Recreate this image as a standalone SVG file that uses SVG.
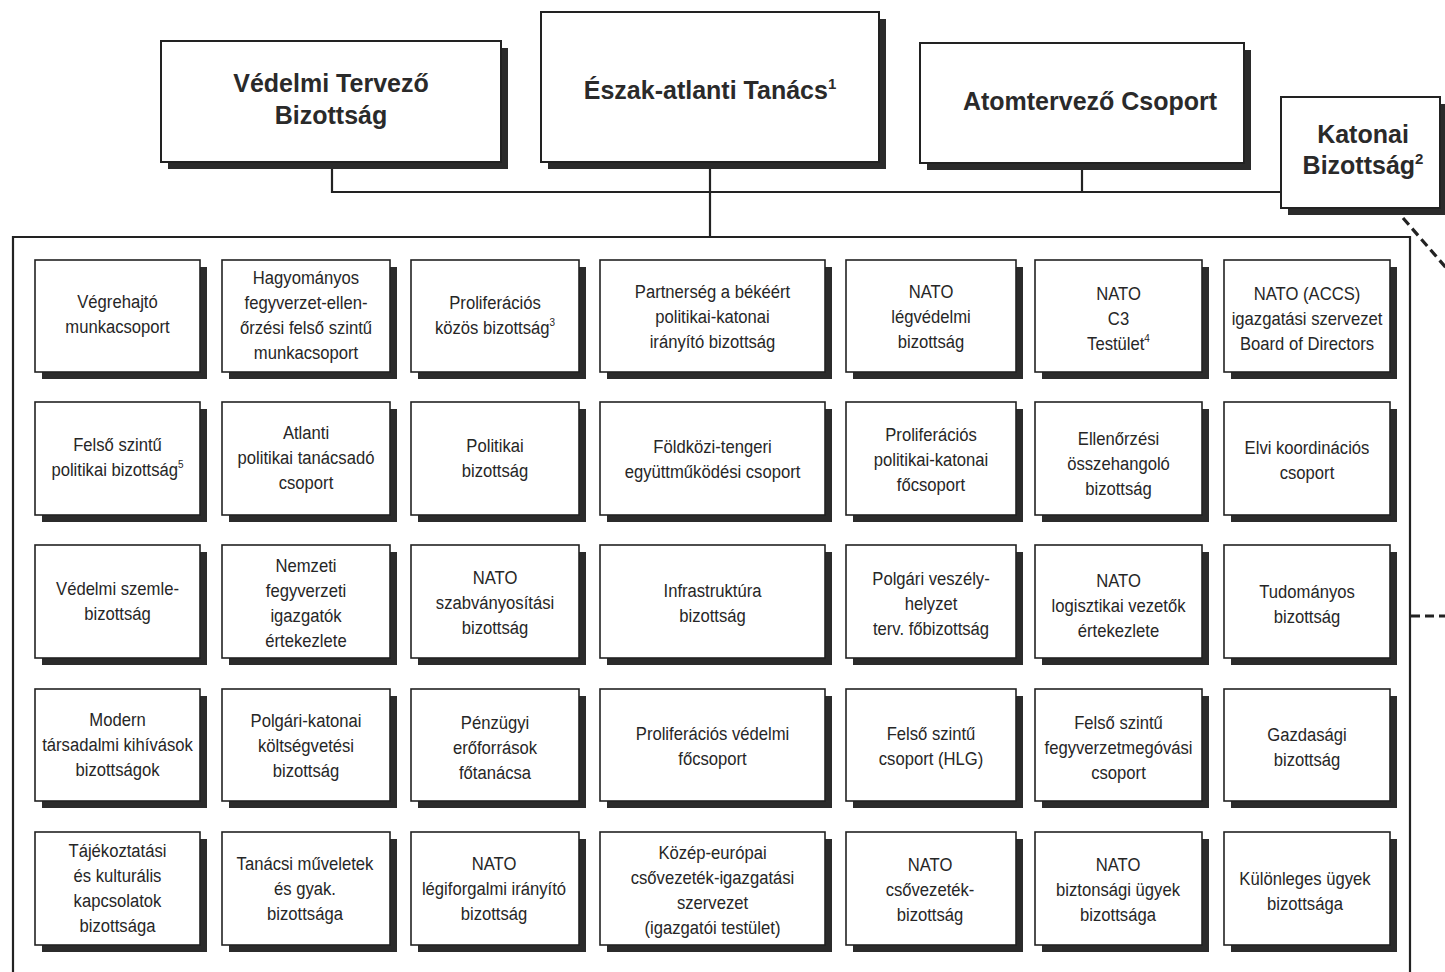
<svg xmlns="http://www.w3.org/2000/svg" width="1445" height="972" viewBox="0 0 1445 972">
<style>
.sh{fill:#2b2b2b}
.bx{fill:#fff;stroke:#222;stroke-width:1.6}
.bb{fill:#fff;stroke:#222;stroke-width:2}
.t{font-family:"Liberation Sans",Arial,sans-serif;font-size:18.5px;fill:#262626;text-anchor:middle}
.h{font-family:"Liberation Sans",Arial,sans-serif;font-size:25px;font-weight:bold;fill:#2a2a2a;text-anchor:middle}
.ln{stroke:#222;stroke-width:2.2;fill:none}
.dl{stroke:#222;stroke-width:3.2;fill:none;stroke-dasharray:9 5}
.sup{font-size:60%}
</style>
<rect width="1445" height="972" fill="#fff"/>
<g id="connectors">
<polyline class="ln" points="332,162 332,192 1281,192"/>
<line class="ln" x1="1082" y1="163" x2="1082" y2="192"/>
<line class="ln" x1="710" y1="161" x2="710" y2="237"/>
<polyline class="ln" points="13,980 13,237 1410,237 1410,980"/>
<line class="dl" x1="1403" y1="218" x2="1448" y2="270"/>
<line class="dl" x1="1411" y1="616" x2="1445" y2="616"/>
</g>
<g id="vedelmi-tervezo">
<rect class="sh" x="168" y="48" width="340" height="121"/>
<rect class="bb" x="161" y="41" width="340" height="121"/>
<text class="h"><tspan x="331" y="92">Védelmi Tervező</tspan><tspan x="331" y="124">Bizottság</tspan></text>
</g>
<g id="eszak-atlanti">
<rect class="sh" x="548" y="19" width="338" height="150"/>
<rect class="bb" x="541" y="12" width="338" height="150"/>
<text class="h"><tspan x="710" y="99">Észak-atlanti Tanács<tspan class="sup" dy="-10">1</tspan></tspan></text>
</g>
<g id="atomtervezo">
<rect class="sh" x="927" y="50" width="324" height="120"/>
<rect class="bb" x="920" y="43" width="324" height="120"/>
<text class="h"><tspan x="1090" y="110">Atomtervező Csoport</tspan></text>
</g>
<g id="katonai">
<rect class="sh" x="1288" y="104" width="160" height="111"/>
<rect class="bb" x="1281" y="97" width="159" height="111"/>
<text class="h"><tspan x="1363" y="143">Katonai</tspan><tspan x="1363" y="174">Bizottság<tspan class="sup" dy="-10">2</tspan></tspan></text>
</g>

<!-- row 1 -->
<g id="n11"><rect class="sh" x="42" y="267" width="165" height="112"/><rect class="bx" x="35" y="260" width="165" height="112"/>
<text class="t" transform="translate(117.5 0) scale(0.9 1)"><tspan x="0" y="308">Végrehajtó</tspan><tspan x="0" y="333">munkacsoport</tspan></text></g>
<g id="n12"><rect class="sh" x="229" y="267" width="168" height="112"/><rect class="bx" x="222" y="260" width="168" height="112"/>
<text class="t" transform="translate(306 0) scale(0.9 1)"><tspan x="0" y="284">Hagyományos</tspan><tspan x="0" y="309">fegyverzet-ellen-</tspan><tspan x="0" y="334">őrzési felső szintű</tspan><tspan x="0" y="359">munkacsoport</tspan></text></g>
<g id="n13"><rect class="sh" x="418" y="267" width="168" height="112"/><rect class="bx" x="411" y="260" width="168" height="112"/>
<text class="t" transform="translate(495 0) scale(0.9 1)"><tspan x="0" y="309">Proliferációs</tspan><tspan x="0" y="334">közös bizottság<tspan class="sup" dy="-8">3</tspan></tspan></text></g>
<g id="n14"><rect class="sh" x="607" y="267" width="225" height="112"/><rect class="bx" x="600" y="260" width="225" height="112"/>
<text class="t" transform="translate(712.5 0) scale(0.9 1)"><tspan x="0" y="298">Partnerség a békéért</tspan><tspan x="0" y="323">politikai-katonai</tspan><tspan x="0" y="348">irányító bizottság</tspan></text></g>
<g id="n15"><rect class="sh" x="853" y="267" width="170" height="112"/><rect class="bx" x="846" y="260" width="170" height="112"/>
<text class="t" transform="translate(931 0) scale(0.9 1)"><tspan x="0" y="298">NATO</tspan><tspan x="0" y="323">légvédelmi</tspan><tspan x="0" y="348">bizottság</tspan></text></g>
<g id="n16"><rect class="sh" x="1042" y="267" width="167" height="112"/><rect class="bx" x="1035" y="260" width="167" height="112"/>
<text class="t" transform="translate(1118.5 0) scale(0.9 1)"><tspan x="0" y="300">NATO</tspan><tspan x="0" y="325">C3</tspan><tspan x="0" y="350">Testület<tspan class="sup" dy="-8">4</tspan></tspan></text></g>
<g id="n17"><rect class="sh" x="1231" y="267" width="166" height="112"/><rect class="bx" x="1224" y="260" width="166" height="112"/>
<text class="t" transform="translate(1307 0) scale(0.9 1)"><tspan x="0" y="300">NATO (ACCS)</tspan><tspan x="0" y="325">igazgatási szervezet</tspan><tspan x="0" y="350">Board of Directors</tspan></text></g>

<!-- row 2 -->
<g id="n21"><rect class="sh" x="42" y="409" width="165" height="113"/><rect class="bx" x="35" y="402" width="165" height="113"/>
<text class="t" transform="translate(117.5 0) scale(0.9 1)"><tspan x="0" y="451">Felső szintű</tspan><tspan x="0" y="476">politikai bizottság<tspan class="sup" dy="-8">5</tspan></tspan></text></g>
<g id="n22"><rect class="sh" x="229" y="409" width="168" height="113"/><rect class="bx" x="222" y="402" width="168" height="113"/>
<text class="t" transform="translate(306 0) scale(0.9 1)"><tspan x="0" y="439">Atlanti</tspan><tspan x="0" y="464">politikai tanácsadó</tspan><tspan x="0" y="489">csoport</tspan></text></g>
<g id="n23"><rect class="sh" x="418" y="409" width="168" height="113"/><rect class="bx" x="411" y="402" width="168" height="113"/>
<text class="t" transform="translate(495 0) scale(0.9 1)"><tspan x="0" y="452">Politikai</tspan><tspan x="0" y="477">bizottság</tspan></text></g>
<g id="n24"><rect class="sh" x="607" y="409" width="225" height="113"/><rect class="bx" x="600" y="402" width="225" height="113"/>
<text class="t" transform="translate(712.5 0) scale(0.9 1)"><tspan x="0" y="453">Földközi-tengeri</tspan><tspan x="0" y="478">együttműködési csoport</tspan></text></g>
<g id="n25"><rect class="sh" x="853" y="409" width="170" height="113"/><rect class="bx" x="846" y="402" width="170" height="113"/>
<text class="t" transform="translate(931 0) scale(0.9 1)"><tspan x="0" y="441">Proliferációs</tspan><tspan x="0" y="466">politikai-katonai</tspan><tspan x="0" y="491">főcsoport</tspan></text></g>
<g id="n26"><rect class="sh" x="1042" y="409" width="167" height="113"/><rect class="bx" x="1035" y="402" width="167" height="113"/>
<text class="t" transform="translate(1118.5 0) scale(0.9 1)"><tspan x="0" y="445">Ellenőrzési</tspan><tspan x="0" y="470">összehangoló</tspan><tspan x="0" y="495">bizottság</tspan></text></g>
<g id="n27"><rect class="sh" x="1231" y="409" width="166" height="113"/><rect class="bx" x="1224" y="402" width="166" height="113"/>
<text class="t" transform="translate(1307 0) scale(0.9 1)"><tspan x="0" y="454">Elvi koordinációs</tspan><tspan x="0" y="479">csoport</tspan></text></g>

<!-- row 3 -->
<g id="n31"><rect class="sh" x="42" y="552" width="165" height="113"/><rect class="bx" x="35" y="545" width="165" height="113"/>
<text class="t" transform="translate(117.5 0) scale(0.9 1)"><tspan x="0" y="595">Védelmi szemle-</tspan><tspan x="0" y="620">bizottság</tspan></text></g>
<g id="n32"><rect class="sh" x="229" y="552" width="168" height="113"/><rect class="bx" x="222" y="545" width="168" height="113"/>
<text class="t" transform="translate(306 0) scale(0.9 1)"><tspan x="0" y="572">Nemzeti</tspan><tspan x="0" y="597">fegyverzeti</tspan><tspan x="0" y="622">igazgatók</tspan><tspan x="0" y="647">értekezlete</tspan></text></g>
<g id="n33"><rect class="sh" x="418" y="552" width="168" height="113"/><rect class="bx" x="411" y="545" width="168" height="113"/>
<text class="t" transform="translate(495 0) scale(0.9 1)"><tspan x="0" y="584">NATO</tspan><tspan x="0" y="609">szabványosítási</tspan><tspan x="0" y="634">bizottság</tspan></text></g>
<g id="n34"><rect class="sh" x="607" y="552" width="225" height="113"/><rect class="bx" x="600" y="545" width="225" height="113"/>
<text class="t" transform="translate(712.5 0) scale(0.9 1)"><tspan x="0" y="597">Infrastruktúra</tspan><tspan x="0" y="622">bizottság</tspan></text></g>
<g id="n35"><rect class="sh" x="853" y="552" width="170" height="113"/><rect class="bx" x="846" y="545" width="170" height="113"/>
<text class="t" transform="translate(931 0) scale(0.9 1)"><tspan x="0" y="585">Polgári veszély-</tspan><tspan x="0" y="610">helyzet</tspan><tspan x="0" y="635">terv. főbizottság</tspan></text></g>
<g id="n36"><rect class="sh" x="1042" y="552" width="167" height="113"/><rect class="bx" x="1035" y="545" width="167" height="113"/>
<text class="t" transform="translate(1118.5 0) scale(0.9 1)"><tspan x="0" y="587">NATO</tspan><tspan x="0" y="612">logisztikai vezetők</tspan><tspan x="0" y="637">értekezlete</tspan></text></g>
<g id="n37"><rect class="sh" x="1231" y="552" width="166" height="113"/><rect class="bx" x="1224" y="545" width="166" height="113"/>
<text class="t" transform="translate(1307 0) scale(0.9 1)"><tspan x="0" y="598">Tudományos</tspan><tspan x="0" y="623">bizottság</tspan></text></g>

<!-- row 4 -->
<g id="n41"><rect class="sh" x="42" y="696" width="165" height="112"/><rect class="bx" x="35" y="689" width="165" height="112"/>
<text class="t" transform="translate(117.5 0) scale(0.9 1)"><tspan x="0" y="726">Modern</tspan><tspan x="0" y="751">társadalmi kihívások</tspan><tspan x="0" y="776">bizottságok</tspan></text></g>
<g id="n42"><rect class="sh" x="229" y="696" width="168" height="112"/><rect class="bx" x="222" y="689" width="168" height="112"/>
<text class="t" transform="translate(306 0) scale(0.9 1)"><tspan x="0" y="727">Polgári-katonai</tspan><tspan x="0" y="752">költségvetési</tspan><tspan x="0" y="777">bizottság</tspan></text></g>
<g id="n43"><rect class="sh" x="418" y="696" width="168" height="112"/><rect class="bx" x="411" y="689" width="168" height="112"/>
<text class="t" transform="translate(495 0) scale(0.9 1)"><tspan x="0" y="729">Pénzügyi</tspan><tspan x="0" y="754">erőforrások</tspan><tspan x="0" y="779">főtanácsa</tspan></text></g>
<g id="n44"><rect class="sh" x="607" y="696" width="225" height="112"/><rect class="bx" x="600" y="689" width="225" height="112"/>
<text class="t" transform="translate(712.5 0) scale(0.9 1)"><tspan x="0" y="740">Proliferációs védelmi</tspan><tspan x="0" y="765">főcsoport</tspan></text></g>
<g id="n45"><rect class="sh" x="853" y="696" width="170" height="112"/><rect class="bx" x="846" y="689" width="170" height="112"/>
<text class="t" transform="translate(931 0) scale(0.9 1)"><tspan x="0" y="740">Felső szintű</tspan><tspan x="0" y="765">csoport (HLG)</tspan></text></g>
<g id="n46"><rect class="sh" x="1042" y="696" width="167" height="112"/><rect class="bx" x="1035" y="689" width="167" height="112"/>
<text class="t" transform="translate(1118.5 0) scale(0.9 1)"><tspan x="0" y="729">Felső szintű</tspan><tspan x="0" y="754">fegyverzetmegóvási</tspan><tspan x="0" y="779">csoport</tspan></text></g>
<g id="n47"><rect class="sh" x="1231" y="696" width="166" height="112"/><rect class="bx" x="1224" y="689" width="166" height="112"/>
<text class="t" transform="translate(1307 0) scale(0.9 1)"><tspan x="0" y="741">Gazdasági</tspan><tspan x="0" y="766">bizottság</tspan></text></g>

<!-- row 5 -->
<g id="n51"><rect class="sh" x="42" y="839" width="165" height="113"/><rect class="bx" x="35" y="832" width="165" height="113"/>
<text class="t" transform="translate(117.5 0) scale(0.9 1)"><tspan x="0" y="857">Tájékoztatási</tspan><tspan x="0" y="882">és kulturális</tspan><tspan x="0" y="907">kapcsolatok</tspan><tspan x="0" y="932">bizottsága</tspan></text></g>
<g id="n52"><rect class="sh" x="229" y="839" width="168" height="113"/><rect class="bx" x="222" y="832" width="168" height="113"/>
<text class="t" transform="translate(305 0) scale(0.9 1)"><tspan x="0" y="870">Tanácsi műveletek</tspan><tspan x="0" y="895">és gyak.</tspan><tspan x="0" y="920">bizottsága</tspan></text></g>
<g id="n53"><rect class="sh" x="418" y="839" width="168" height="113"/><rect class="bx" x="411" y="832" width="168" height="113"/>
<text class="t" transform="translate(494 0) scale(0.9 1)"><tspan x="0" y="870">NATO</tspan><tspan x="0" y="895">légiforgalmi irányító</tspan><tspan x="0" y="920">bizottság</tspan></text></g>
<g id="n54"><rect class="sh" x="607" y="839" width="225" height="113"/><rect class="bx" x="600" y="832" width="225" height="113"/>
<text class="t" transform="translate(712.5 0) scale(0.9 1)"><tspan x="0" y="859">Közép-európai</tspan><tspan x="0" y="884">csővezeték-igazgatási</tspan><tspan x="0" y="909">szervezet</tspan><tspan x="0" y="934">(igazgatói testület)</tspan></text></g>
<g id="n55"><rect class="sh" x="853" y="839" width="170" height="113"/><rect class="bx" x="846" y="832" width="170" height="113"/>
<text class="t" transform="translate(930 0) scale(0.9 1)"><tspan x="0" y="871">NATO</tspan><tspan x="0" y="896">csővezeték-</tspan><tspan x="0" y="921">bizottság</tspan></text></g>
<g id="n56"><rect class="sh" x="1042" y="839" width="167" height="113"/><rect class="bx" x="1035" y="832" width="167" height="113"/>
<text class="t" transform="translate(1118 0) scale(0.9 1)"><tspan x="0" y="871">NATO</tspan><tspan x="0" y="896">biztonsági ügyek</tspan><tspan x="0" y="921">bizottsága</tspan></text></g>
<g id="n57"><rect class="sh" x="1231" y="839" width="166" height="113"/><rect class="bx" x="1224" y="832" width="166" height="113"/>
<text class="t" transform="translate(1305 0) scale(0.9 1)"><tspan x="0" y="885">Különleges ügyek</tspan><tspan x="0" y="910">bizottsága</tspan></text></g>
</svg>
